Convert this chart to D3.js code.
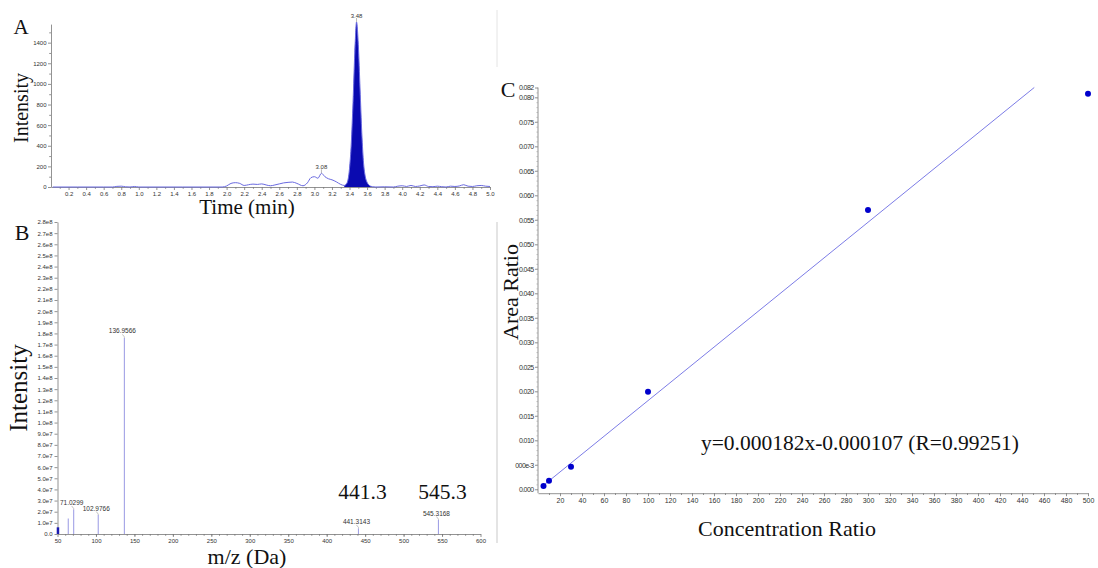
<!DOCTYPE html>
<html><head><meta charset="utf-8">
<script src="https://cdn.jsdelivr.net/npm/d3@7"></script>
<style>body{margin:0;background:#fff}svg{display:block}</style>
</head><body>
<svg id="c" width="1098" height="568"></svg>
<script>
// ---------- Panel A : chromatogram ----------
const chromTime = [0.02,0.3,0.6,0.7,0.75,0.8,0.85,0.9,0.95,1.0,1.5,1.95,2.0,2.05,2.1,2.15,2.2,2.25,2.3,2.35,2.4,2.45,2.5,2.55,2.6,2.65,2.7,2.75,2.8,2.87,2.92,2.96,3.0,3.04,3.08,3.12,3.16,3.2,3.25,3.3,3.34,3.36,3.38,3.40,3.42,3.44,3.46,3.48,3.50,3.52,3.54,3.56,3.58,3.60,3.62,3.64,3.66,3.7,3.8,3.9,3.95,4.0,4.05,4.1,4.15,4.2,4.25,4.3,4.35,4.4,4.45,4.5,4.55,4.6,4.65,4.7,4.75,4.8,4.85,4.9,4.95,5.0];
const chromIntensity = [0,0,0,0,6,8,2,0,5,0,0,0,10,35,42,35,15,22,28,25,30,20,12,20,30,40,45,48,35,12,40,90,100,85,133,100,80,70,50,25,15,25,60,180,420,820,1300,1600,1380,950,520,230,100,45,20,8,3,0,2,0,8,12,5,15,5,10,20,5,3,8,3,0,8,5,10,22,8,5,12,15,8,5];
const chromPeakTimes = [3.48, 3.08];
const chromPeakValues = [1600, 133];
const chromPeakLabels = ["3.48", "3.08"];
const chromFillRange = [3.34, 3.68];
const chromXTicks = [0.2,0.4,0.6,0.8,1.0,1.2,1.4,1.6,1.8,2.0,2.2,2.4,2.6,2.8,3.0,3.2,3.4,3.6,3.8,4.0,4.2,4.4,4.6,4.8,5.0];
const chromYTicks = [0,200,400,600,800,1000,1200,1400];

// ---------- Panel B : mass spectrum ----------
const msMz = [50.6, 64, 71.0299, 102.9766, 136.9566, 441.3143, 545.3168];
const msIntensity = [0.6e7, 1.4e7, 2.2e7, 1.7e7, 1.76e8, 0.5e7, 1.25e7];
const msPeakLabels = ["", "", "71.0299", "102.9766", "136.9566", "441.3143", "545.3168"];
const msBigLabels = ["441.3", "545.3"];
const msBigLabelMz = [441.3143, 545.3168];
const msXTicks = [50,100,150,200,250,300,350,400,450,500,550,600];
const msYTicks = [0,1e7,2e7,3e7,4e7,5e7,6e7,7e7,8e7,9e7,1e8,1.1e8,1.2e8,1.3e8,1.4e8,1.5e8,1.6e8,1.7e8,1.8e8,1.9e8,2.0e8,2.1e8,2.2e8,2.3e8,2.4e8,2.5e8,2.6e8,2.7e8,2.8e8];
const msYTickLabels = ["0.0","1.0e7","2.0e7","3.0e7","4.0e7","5.0e7","6.0e7","7.0e7","8.0e7","9.0e7","1.0e8","1.1e8","1.2e8","1.3e8","1.4e8","1.5e8","1.6e8","1.7e8","1.8e8","1.9e8","2.0e8","2.1e8","2.2e8","2.3e8","2.4e8","2.5e8","2.6e8","2.7e8","2.8e8"];

// ---------- Panel C : calibration ----------
const concRatio = [5, 10, 30, 100, 300, 500];
const areaRatio = [0.00067, 0.00176, 0.0046, 0.0199, 0.0570, 0.0807];
const fitSlope = 0.000182;
const fitIntercept = -0.000107;
const fitText = "y=0.000182x-0.000107 (R=0.99251)";
const calXTicks = [20,40,60,80,100,120,140,160,180,200,220,240,260,280,300,320,340,360,380,400,420,440,460,480,500];
const calYTicks = [0,0.005,0.010,0.015,0.020,0.025,0.030,0.035,0.040,0.045,0.050,0.055,0.060,0.065,0.070,0.075,0.080,0.082];
const calYTickLabels = ["0.000","000e-3","0.010","0.015","0.020","0.025","0.030","0.035","0.040","0.045","0.050","0.055","0.060","0.065","0.070","0.075","0.080","0.082"];

// ---------- drawing ----------
const svg = d3.select("#c");
const sans = "'Liberation Sans', Arial, sans-serif";
const serif = "'Liberation Serif', 'Times New Roman', serif";
const axisColor = "#777";

function styleAxis(g, fs) {
  g.selectAll("path").attr("stroke", axisColor).attr("stroke-width", 0.8);
  g.selectAll("line").attr("stroke", axisColor).attr("stroke-width", 0.8);
  g.selectAll("text").attr("font-family", sans).attr("font-size", fs).attr("fill", "#333");
}
function minorTicks(lo, hi, step) {
  const out = [];
  const n = Math.round((hi - lo) / step);
  for (let i = 0; i <= n; i++) out.push(+(lo + i * step).toFixed(6));
  return out;
}
function title(txt, x, y, size, rot) {
  const t = svg.append("text").text(txt)
    .attr("font-family", serif).attr("font-size", size).attr("fill", "#111")
    .attr("text-anchor", "middle");
  if (rot) t.attr("transform", `translate(${x},${y}) rotate(-90)`);
  else t.attr("x", x).attr("y", y);
  return t;
}

// Panel A
const xA = d3.scaleLinear([0, 5], [51, 490]);
const yA = d3.scaleLinear([0, 1580], [187, 24.1]);
const gAx = svg.append("g").attr("transform", `translate(0,${yA(0)})`)
  .call(d3.axisBottom(xA).tickValues(chromXTicks).tickSize(3).tickSizeOuter(0).tickPadding(1.5).tickFormat(d3.format(".1f")));
styleAxis(gAx, 6);
const gAxm = svg.append("g").attr("transform", `translate(0,${yA(0)})`)
  .call(d3.axisBottom(xA).tickValues(minorTicks(0.1, 4.9, 0.2)).tickSize(1.8).tickFormat(""));
styleAxis(gAxm, 6); gAxm.select("path").remove();
const gAy = svg.append("g").attr("transform", `translate(${xA(0)},0)`)
  .call(d3.axisLeft(yA).tickValues(chromYTicks).tickSize(3).tickSizeOuter(0).tickPadding(1.5).tickFormat(d3.format("d")));
styleAxis(gAy, 6);
const gAym = svg.append("g").attr("transform", `translate(${xA(0)},0)`)
  .call(d3.axisLeft(yA).tickValues(minorTicks(100, 1500, 200)).tickSize(1.8).tickFormat(""));
styleAxis(gAym, 6); gAym.select("path").remove();

const chromPts = chromTime.map((t, i) => [t, chromIntensity[i]]);
const fillPts = chromPts.filter(p => p[0] >= chromFillRange[0] && p[0] <= chromFillRange[1]);
svg.append("path").datum(fillPts)
  .attr("d", d3.area().x(d => xA(d[0])).y0(yA(0)).y1(d => yA(d[1])).curve(d3.curveMonotoneX))
  .attr("fill", "#0a0ab0");
svg.append("path").datum(chromPts)
  .attr("d", d3.line().x(d => xA(d[0])).y(d => yA(d[1])).curve(d3.curveMonotoneX))
  .attr("fill", "none").attr("stroke", "#6a6ae0").attr("stroke-width", 1);
chromPeakTimes.forEach((t, i) => {
  const px = xA(t), py = yA(chromPeakValues[i]);
  svg.append("line").attr("x1", px).attr("x2", px).attr("y1", py - 4).attr("y2", py)
    .attr("stroke", "#888").attr("stroke-width", 0.6);
  svg.append("text").text(chromPeakLabels[i]).attr("x", px).attr("y", py - 4.5)
    .attr("text-anchor", "middle").attr("font-family", sans).attr("font-size", 6).attr("fill", "#333");
});
title("A", 21, 34, 21, false);
title("Intensity", 28, 108, 20, true);
title("Time (min)", 247, 214, 21, false);

// Panel B
const xB = d3.scaleLinear([50, 600], [57.5, 480.5]);
const yB = d3.scaleLinear([0, 2.8e8], [534, 222]);
const gBx = svg.append("g").attr("transform", `translate(0,${yB(0)})`)
  .call(d3.axisBottom(xB).tickValues(msXTicks).tickSize(3).tickSizeOuter(0).tickPadding(1.5));
styleAxis(gBx, 6);
const gBxm = svg.append("g").attr("transform", `translate(0,${yB(0)})`)
  .call(d3.axisBottom(xB).tickValues(minorTicks(60, 590, 10)).tickSize(1.8).tickFormat(""));
styleAxis(gBxm, 6); gBxm.select("path").remove();
const gBy = svg.append("g").attr("transform", `translate(${xB(50)},0)`)
  .call(d3.axisLeft(yB).tickValues(msYTicks).tickSize(3).tickSizeOuter(0).tickPadding(2)
    .tickFormat((d, i) => msYTickLabels[i]));
styleAxis(gBy, 6);

msMz.forEach((m, i) => {
  const px = xB(m), top = yB(msIntensity[i]);
  svg.append("line").attr("x1", px).attr("x2", px).attr("y1", yB(0)).attr("y2", top)
    .attr("stroke", i === 0 ? "#1a1ab0" : "#a2a2e6").attr("stroke-width", i === 0 ? 2.5 : 1.1);
  if (msPeakLabels[i]) {
    svg.append("path").attr("d", `M${px - 2},${top - 3.5} L${px},${top - 1} L${px},${top}`)
      .attr("fill", "none").attr("stroke", "#999").attr("stroke-width", 0.6);
    svg.append("text").text(msPeakLabels[i]).attr("x", px - 2).attr("y", top - 4.5)
      .attr("text-anchor", "middle").attr("font-family", sans).attr("font-size", 6.5).attr("fill", "#333");
  }
});
msBigLabels.forEach((t, i) => {
  svg.append("text").text(t).attr("x", xB(msBigLabelMz[i]) + 4).attr("y", 499)
    .attr("text-anchor", "middle").attr("font-family", serif).attr("font-size", 21.5).attr("fill", "#111");
});
svg.append("line").attr("x1", 497).attr("x2", 497).attr("y1", 222).attr("y2", 543)
  .attr("stroke", "#bbb").attr("stroke-width", 0.8);
svg.append("line").attr("x1", 497).attr("x2", 497).attr("y1", 10).attr("y2", 67)
  .attr("stroke", "#ddd").attr("stroke-width", 0.8);
title("B", 22, 240, 22, false);
title("Intensity", 27, 388, 25, true);
title("m/z (Da)", 247, 564, 22, false);

// Panel C
const xC = d3.scaleLinear([0, 500], [538, 1088]);
const yC = d3.scaleLinear([-0.0008, 0.082], [493.2, 87.5]);
const gCx = svg.append("g").attr("transform", `translate(0,${yC.range()[0]})`)
  .call(d3.axisBottom(xC).tickValues(calXTicks).tickSize(3).tickSizeOuter(0).tickPadding(1.5));
styleAxis(gCx, 7);
const gCxm = svg.append("g").attr("transform", `translate(0,${yC.range()[0]})`)
  .call(d3.axisBottom(xC).tickValues(minorTicks(10, 490, 20)).tickSize(1.8).tickFormat(""));
styleAxis(gCxm, 7); gCxm.select("path").remove();
const gCy = svg.append("g").attr("transform", `translate(${xC(0)},0)`)
  .call(d3.axisLeft(yC).tickValues(calYTicks).tickSize(3).tickSizeOuter(0).tickPadding(1.5)
    .tickFormat((d, i) => calYTickLabels[i]));
styleAxis(gCy, 7);
gCy.selectAll("text").attr("letter-spacing", "-0.6px");
gCy.select("path").attr("d", `M0,${yC.range()[0]}V${yC(0.082)}`);
const gCym = svg.append("g").attr("transform", `translate(${xC(0)},0)`)
  .call(d3.axisLeft(yC).tickValues(minorTicks(0.001, 0.081, 0.001)).tickSize(1.5).tickFormat(""));
styleAxis(gCym, 7); gCym.select("path").remove();
gCym.selectAll("line").attr("stroke", "#aaa");

const fitX0 = 3, fitX1 = (0.082 - fitIntercept) / fitSlope;
svg.append("line")
  .attr("x1", xC(fitX0)).attr("y1", yC(fitSlope * fitX0 + fitIntercept))
  .attr("x2", xC(fitX1)).attr("y2", yC(fitSlope * fitX1 + fitIntercept))
  .attr("stroke", "#5a5ae0").attr("stroke-width", 0.8);
svg.append("g").selectAll("circle").data(concRatio).join("circle")
  .attr("cx", d => xC(d)).attr("cy", (d, i) => yC(areaRatio[i])).attr("r", 3)
  .attr("fill", "#0000cc");
svg.append("text").text(fitText).attr("x", 860).attr("y", 450)
  .attr("text-anchor", "middle").attr("font-family", serif).attr("font-size", 21.5).attr("fill", "#111");
title("C", 508, 97, 22, false);
title("Area Ratio", 518, 292, 22, true);
title("Concentration Ratio", 787, 536, 22, false);
</script>
</body></html>
